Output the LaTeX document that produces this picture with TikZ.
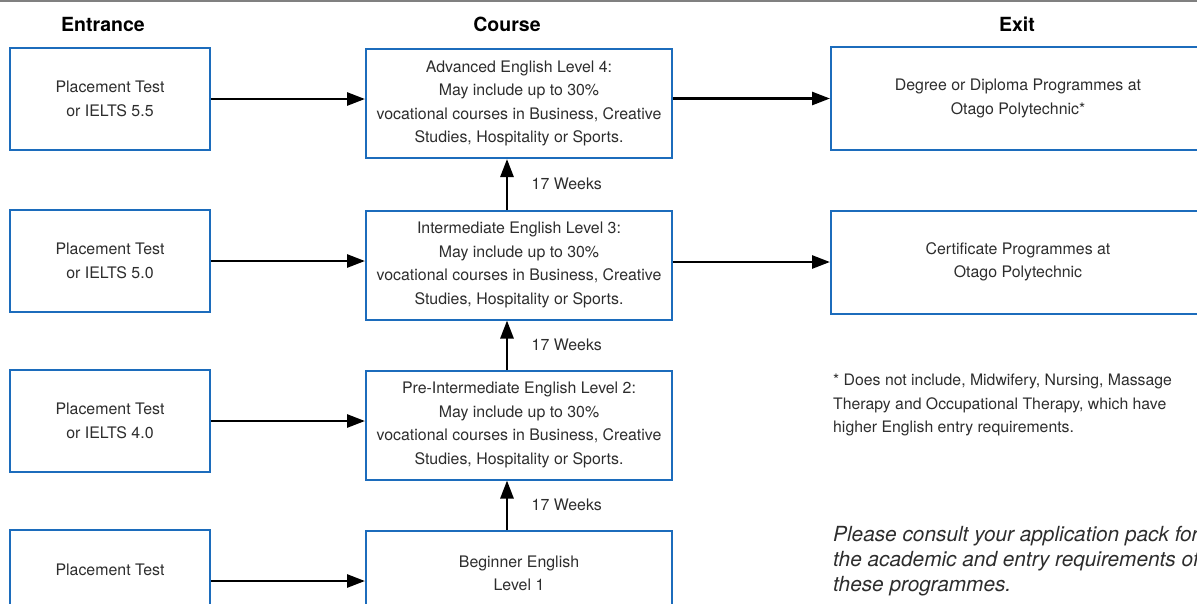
\documentclass[tikz,border=0pt]{standalone}
\usepackage{fontspec}
\setmainfont{TeX Gyre Heros}
\usetikzlibrary{arrows.meta}
\definecolor{boxblue}{RGB}{28,108,188}
\definecolor{txtgray}{RGB}{45,45,45}

\begin{document}
\begin{tikzpicture}[x=1pt,y=-1pt,
  box/.style={draw=boxblue,line width=2pt,align=center,text=txtgray,
    font=\fontsize{15.9}{23.5}\selectfont,inner sep=0pt},
  inbox/.style={box,minimum width=200pt,minimum height=102pt},
  crsbox/.style={box,minimum width=306pt,minimum height=109pt},
  exbox/.style={box,minimum width=374pt,minimum height=103pt},
  head/.style={font=\fontsize{19.5}{24}\selectfont\bfseries},
  arr/.style={-{Triangle[length=18pt,width=13pt]},line width=2.7pt},
  weeks/.style={right=20pt,text=txtgray,font=\fontsize{15.9}{19}\selectfont},
  note/.style={anchor=west,align=left,inner sep=0pt,text=txtgray}]

\useasboundingbox (0,0) rectangle (1197,603);
\clip (0,0) rectangle (1197,603);
\draw[line width=2pt,gray] (0,1) -- (1197,1);

\node[head] (hin) at (103,24) {Entrance};
\node[head] (hcrs) at (507,24) {Course};
\node[head] (hex) at (1017,24) {Exit};

% entrance column
\node[inbox] (in1) at (110,99) {Placement Test\\or IELTS 5.5};
\node[inbox] (in2) at (110,261) {Placement Test\\or IELTS 5.0};
\node[inbox] (in3) at (110,421) {Placement Test\\or IELTS 4.0};
\node[inbox] (in4) at (110,581) {Placement Test\\[0pt]\mbox{}};

% course column
\node[crsbox] (crs1) at (519,103.5) {Advanced English Level 4:\\May include up to 30\%\\vocational courses in Business, Creative\\Studies, Hospitality or Sports.};
\node[crsbox] (crs2) at (519,265) {Intermediate English Level 3:\\May include up to 30\%\\vocational courses in Business, Creative\\Studies, Hospitality or Sports.};
\node[crsbox] (crs3) at (519,425) {Pre-Intermediate English Level 2:\\May include up to 30\%\\vocational courses in Business, Creative\\Studies, Hospitality or Sports.};
\node[crsbox] (crs4) at (519,585) {Beginner English\\Level 1\\[0pt]\mbox{}};

% exit column
\node[exbox] (ex1) at (1018,98.5) {Degree or Diploma Programmes at\\Otago Polytechnic*};
\node[exbox] (ex2) at (1018,262) {Certificate Programmes at\\Otago Polytechnic};

\draw[arr] (in1.east) -- (in1.east -| crs1.west);
\draw[arr] (in2.east) -- (in2.east -| crs2.west);
\draw[arr] (in3.east) -- (in3.east -| crs3.west);
\draw[arr] (in4.east) -- (in4.east -| crs4.west);
\draw[arr] (crs1.east |- ex1.west) -- (ex1.west);
\draw[arr] (crs2.east |- ex2.west) -- (ex2.west);

\draw[arr] ([xshift=-12pt]crs2.north) -- ([xshift=-12pt]crs1.south) node[weeks,midway] {17 Weeks};
\draw[arr] ([xshift=-12pt]crs3.north) -- ([xshift=-12pt]crs2.south) node[weeks,midway] {17 Weeks};
\draw[arr] ([xshift=-12pt]crs4.north) -- ([xshift=-12pt]crs3.south) node[weeks,midway] {17 Weeks};

\node[note,font=\fontsize{15.8}{23.5}\selectfont] (fnote) at (833,405) {* Does not include, Midwifery, Nursing, Massage\\Therapy and Occupational Therapy, which have\\higher English entry requirements.};
\node[note,font=\fontsize{20.8}{25}\selectfont\itshape] (pack) at (833,561) {Please consult your application pack for\\the academic and entry requirements of\\these programmes.};
\end{tikzpicture}
\end{document}
